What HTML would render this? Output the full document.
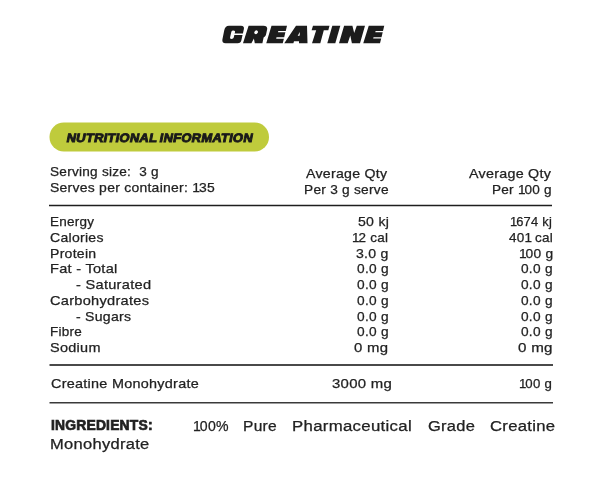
<!DOCTYPE html>
<html>
<head>
<meta charset="utf-8">
<style>
html,body{margin:0;padding:0;background:#fff;width:600px;height:481px;overflow:hidden;position:relative;}
body{font-family:"Liberation Sans",sans-serif;color:#222;}
.wrap{position:absolute;left:0;top:0;width:600px;height:481px;will-change:transform;background:#fff;}
.x{position:absolute;white-space:pre;line-height:20px;transform-origin:0 0;-webkit-text-stroke:0.25px #222;}
.badge{position:absolute;left:0;top:0;width:600px;height:160px;}
.badge span{position:absolute;left:65.9px;top:129.9px;font-size:12.2px;font-weight:700;line-height:16px;color:#1a1a1a;letter-spacing:0.2px;word-spacing:-1px;transform-origin:0 12px;transform:skewX(-11deg) scaleX(1.068);-webkit-text-stroke:0.9px #1a1a1a;white-space:pre;}

</style>
</head>
<body>
<div class="wrap">
<svg class="ttl" width="600" height="60" viewBox="0 0 600 60" style="position:absolute;left:0;top:0">
<g fill="#1c1c1c">
<path d="M229,25.7 L241,25.7 C243.5,25.7 244.3,27 243.9,29 L242.9,33.6 L234.2,33.6 L233.9,35 L242.5,35 L241.4,40.3 C241,42.3 239.8,43.3 237.6,43.3 L225.6,43.3 C223,43.3 222,41.8 222.4,39.6 L224.2,30.6 C224.8,27.5 226.3,25.7 229,25.7 Z"/>
<path d="M248.6,25.7 L263.4,25.7 C266.6,25.7 267.6,27.2 267.1,29.6 L266.2,33.8 C265.9,35.5 265.1,36.8 263.6,37.6 L262.4,43.3 L254.8,43.3 L253.9,38.4 L251.4,43.3 L243,43.3 Z"/>
<path d="M271.5,25.70 L287,25.70 L285.75,30.88 L278.3,30.88 L278,32.17 L285.4,32.17 L284.2,37.35 L276.5,37.35 L276.2,38.64 L283.9,38.64 L282.75,43.30 L266.25,43.30 Z"/>
<path d="M296,25.70 L307,25.70 L307.5,43.30 L299,43.30 L299,41.23 L294,41.23 L293.4,43.30 L284.25,43.30 Z"/>
<path d="M313,25.70 L329.5,25.70 L328.3,30.15 L323.8,30.15 L320.3,43.30 L312,43.30 L316.2,30.15 L311.6,30.15 Z"/>
<path d="M332.3,25.70 L340.3,25.70 L335.3,43.30 L327.3,43.30 Z"/>
<path d="M344.1,25.7 L352.4,25.7 L354.2,33 L356.8,25.7 L365,25.7 L360,43.3 L351.9,43.3 L350.3,35.6 L347.7,43.3 L339,43.3 Z"/>
<path d="M368.75,25.70 L384.25,25.70 L383,30.88 L375.6,30.88 L375.3,32.17 L382.7,32.17 L381.5,37.35 L373.5,37.35 L373.2,38.54 L381.2,38.54 L380,43.30 L363.25,43.30 Z"/>
</g>
<g fill="#fff">
<path d="M233.3,30.4 C234.8,30.4 235.3,31.1 235,32.3 L233.8,37.3 C233.5,38.5 232.7,38.9 231.5,38.9 C230.3,38.9 229.9,38.2 230.1,37.2 L231.3,31.9 C231.6,30.9 232.3,30.4 233.3,30.4 Z"/>
<ellipse cx="256.1" cy="32.3" rx="2" ry="1.6" transform="rotate(-50 256.1 32.3)"/>
<path d="M299.7,32 L299.8,35.6 L297.7,36 Z"/>
</g>
</svg>
<div class="badge"><svg width="600" height="160" style="position:absolute;left:0;top:0"><rect x="49.5" y="122.6" width="219.5" height="28.8" rx="14.4" fill="#bfcb3c"/></svg><span>NUTRITIONAL INFORMATION</span></div>
<svg width="600" height="481" style="position:absolute;left:0;top:0"><line x1="49" y1="205.4" x2="552" y2="205.4" stroke="#1e1e1e" stroke-width="1.5"/><line x1="49.5" y1="365" x2="553" y2="365" stroke="#4a4a4a" stroke-width="1.8"/><line x1="49.5" y1="402.75" x2="553" y2="402.75" stroke="#3a3a3a" stroke-width="1.5"/></svg>
<div class="x" style="left:50.00px;top:162.00px;font-size:13px;letter-spacing:0.250px;transform:scaleX(1.0447);">Serving size:  3 g</div>
<div class="x" style="left:50.00px;top:178.00px;font-size:13px;letter-spacing:0.250px;transform:scaleX(1.0719);">Serves per container: <span style="letter-spacing:-1.0px">1</span>35</div>
<div class="x" style="left:306.10px;top:164.00px;font-size:13px;letter-spacing:0.250px;transform:scaleX(1.0867);">Average Qty</div>
<div class="x" style="left:303.80px;top:180.00px;font-size:13px;letter-spacing:0.250px;transform:scaleX(1.0519);">Per 3 g serve</div>
<div class="x" style="left:468.70px;top:164.00px;font-size:13px;letter-spacing:0.250px;transform:scaleX(1.0988);">Average Qty</div>
<div class="x" style="left:491.50px;top:180.00px;font-size:13px;letter-spacing:0.250px;transform:scaleX(1.0438);">Per <span style="letter-spacing:-1.0px">1</span>00 g</div>
<div class="x" style="left:50.00px;top:212.00px;font-size:13px;letter-spacing:0.250px;transform:scaleX(1.0368);">Energy</div>
<div class="x" style="left:357.60px;top:212.00px;font-size:13px;letter-spacing:0.250px;transform:scaleX(1.0835);">50 kj</div>
<div class="x" style="left:510.10px;top:212.00px;font-size:13px;letter-spacing:0.250px;transform:scaleX(0.9934);"><span style="letter-spacing:-1.0px">1</span>674 kj</div>
<div class="x" style="left:50.00px;top:227.75px;font-size:13px;letter-spacing:0.250px;transform:scaleX(1.0811);">Calories</div>
<div class="x" style="left:352.30px;top:227.75px;font-size:13px;letter-spacing:0.250px;transform:scaleX(1.0346);"><span style="letter-spacing:-1.0px">1</span>2 cal</div>
<div class="x" style="left:508.50px;top:227.75px;font-size:13px;letter-spacing:0.250px;transform:scaleX(1.0393);">40<span style="letter-spacing:-1.0px">1</span> cal</div>
<div class="x" style="left:50.00px;top:243.50px;font-size:13px;letter-spacing:0.250px;transform:scaleX(1.0800);">Protein</div>
<div class="x" style="left:356.00px;top:243.50px;font-size:13px;letter-spacing:0.250px;transform:scaleX(1.0832);">3.0 g</div>
<div class="x" style="left:518.80px;top:243.50px;font-size:13px;letter-spacing:0.250px;transform:scaleX(1.0600);"><span style="letter-spacing:-1.0px">1</span>00 g</div>
<div class="x" style="left:50.00px;top:259.25px;font-size:13px;letter-spacing:0.250px;transform:scaleX(1.1195);">Fat - Total</div>
<div class="x" style="left:356.50px;top:259.25px;font-size:13px;letter-spacing:0.250px;transform:scaleX(1.0547);">0.0 g</div>
<div class="x" style="left:520.90px;top:259.25px;font-size:13px;letter-spacing:0.250px;transform:scaleX(1.0528);">0.0 g</div>
<div class="x" style="left:75.70px;top:275.00px;font-size:13px;letter-spacing:0.250px;transform:scaleX(1.1225);">- Saturated</div>
<div class="x" style="left:356.50px;top:275.00px;font-size:13px;letter-spacing:0.250px;transform:scaleX(1.0547);">0.0 g</div>
<div class="x" style="left:520.90px;top:275.00px;font-size:13px;letter-spacing:0.250px;transform:scaleX(1.0528);">0.0 g</div>
<div class="x" style="left:50.00px;top:290.75px;font-size:13px;letter-spacing:0.250px;transform:scaleX(1.1214);">Carbohydrates</div>
<div class="x" style="left:356.50px;top:290.75px;font-size:13px;letter-spacing:0.250px;transform:scaleX(1.0547);">0.0 g</div>
<div class="x" style="left:520.90px;top:290.75px;font-size:13px;letter-spacing:0.250px;transform:scaleX(1.0528);">0.0 g</div>
<div class="x" style="left:75.70px;top:306.50px;font-size:13px;letter-spacing:0.250px;transform:scaleX(1.0807);">- Sugars</div>
<div class="x" style="left:356.50px;top:306.50px;font-size:13px;letter-spacing:0.250px;transform:scaleX(1.0547);">0.0 g</div>
<div class="x" style="left:520.90px;top:306.50px;font-size:13px;letter-spacing:0.250px;transform:scaleX(1.0528);">0.0 g</div>
<div class="x" style="left:50.00px;top:322.25px;font-size:13px;letter-spacing:0.250px;transform:scaleX(1.0384);">Fibre</div>
<div class="x" style="left:356.50px;top:322.25px;font-size:13px;letter-spacing:0.250px;transform:scaleX(1.0547);">0.0 g</div>
<div class="x" style="left:520.90px;top:322.25px;font-size:13px;letter-spacing:0.250px;transform:scaleX(1.0528);">0.0 g</div>
<div class="x" style="left:50.00px;top:338.00px;font-size:13px;letter-spacing:0.250px;transform:scaleX(1.1127);">Sodium</div>
<div class="x" style="left:354.10px;top:338.00px;font-size:13px;letter-spacing:0.250px;transform:scaleX(1.1469);">0 mg</div>
<div class="x" style="left:518.20px;top:338.00px;font-size:13px;letter-spacing:0.250px;transform:scaleX(1.1637);">0 mg</div>
<div class="x" style="left:50.70px;top:374.00px;font-size:13px;letter-spacing:0.250px;transform:scaleX(1.1074);">Creatine Monohydrate</div>
<div class="x" style="left:331.75px;top:374.00px;font-size:13px;letter-spacing:0.250px;transform:scaleX(1.1479);">3000 mg</div>
<div class="x" style="left:518.75px;top:374.00px;font-size:13px;letter-spacing:0.250px;transform:scaleX(1.0168);"><span style="letter-spacing:-1.0px">1</span>00 g</div>
<div class="x" style="left:50.70px;top:415.00px;font-size:14px;letter-spacing:0.200px;transform:scaleX(0.9900);font-weight:700;-webkit-text-stroke:0.7px #222;">INGREDIENTS:</div>
<div class="x" style="left:193.00px;top:416.00px;font-size:14px;letter-spacing:0.250px;transform:scaleX(1.0062);"><span style="letter-spacing:-1.0px">1</span>00%</div>
<div class="x" style="left:243.00px;top:416.00px;font-size:14px;letter-spacing:0.250px;transform:scaleX(1.1114);">Pure</div>
<div class="x" style="left:292.20px;top:416.00px;font-size:14px;letter-spacing:0.250px;transform:scaleX(1.1992);">Pharmaceutical</div>
<div class="x" style="left:427.90px;top:416.00px;font-size:14px;letter-spacing:0.250px;transform:scaleX(1.1746);">Grade</div>
<div class="x" style="left:490.20px;top:416.00px;font-size:14px;letter-spacing:0.250px;transform:scaleX(1.1900);">Creatine</div>
<div class="x" style="left:50.00px;top:434.00px;font-size:14px;letter-spacing:0.250px;transform:scaleX(1.1783);">Monohydrate</div>
</div>
</body>
</html>
